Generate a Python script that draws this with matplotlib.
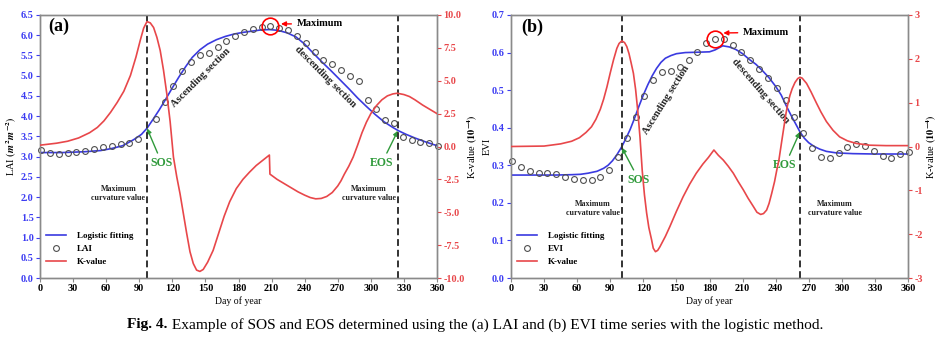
import matplotlib
matplotlib.use("Agg")
import matplotlib.pyplot as plt

plt.rcParams["font.family"] = ["Liberation Serif", "DejaVu Serif"]
plt.rcParams["font.weight"] = "bold"
plt.rcParams["mathtext.fontset"] = "stix"

# ---- (a) LAI ----
lai_days = [1, 9, 17, 25, 33, 41, 49, 57, 65, 73, 81, 89, 105, 113, 121, 129, 137, 145,
            153, 161, 169, 177, 185, 193, 201, 209, 217, 225, 233, 241, 249, 257, 265,
            273, 281, 289, 297, 305, 313, 321, 329, 337, 345, 353, 361]
lai_obs = [3.16, 3.08, 3.07, 3.08, 3.11, 3.14, 3.20, 3.24, 3.26, 3.30, 3.33, 3.44, 3.94,
           4.36, 4.75, 5.11, 5.33, 5.51, 5.57, 5.70, 5.85, 5.98, 6.07, 6.15, 6.20, 6.24,
           6.17, 6.13, 5.99, 5.80, 5.58, 5.39, 5.28, 5.14, 4.99, 4.88, 4.40, 4.17, 3.90,
           3.84, 3.48, 3.41, 3.35, 3.34, 3.27]
lai_fit_days = [0, 20, 40, 55, 65, 75, 85, 92, 97, 102, 108, 114, 120, 126, 132, 138, 145,
                152, 160, 168, 176, 184, 192, 200, 208, 216, 224, 232, 240, 248, 256, 264,
                272, 280, 288, 296, 304, 312, 320, 325, 332, 340, 350, 360]
lai_fit = [3.10, 3.10, 3.12, 3.15, 3.20, 3.27, 3.42, 3.55, 3.70, 3.90, 4.15, 4.42, 4.70,
           4.97, 5.22, 5.45, 5.64, 5.78, 5.89, 5.97, 6.03, 6.07, 6.10, 6.13, 6.14, 6.12,
           6.06, 5.96, 5.78, 5.55, 5.33, 5.12, 4.90, 4.68, 4.45, 4.24, 4.04, 3.86, 3.72,
           3.64, 3.55, 3.46, 3.36, 3.27]
lai_k_days = [0, 15, 25, 35, 45, 52, 58, 64, 70, 76, 82, 87, 91, 94, 97, 100, 103, 106, 109,
              112, 115, 118, 121, 124, 127, 130, 133, 136, 139, 142, 145, 148, 152, 157, 162,
              167, 172, 178, 184, 190, 196, 202, 208, 208.5, 215, 222, 228, 234, 240, 245,
              250, 255, 260, 265, 270, 273, 276, 280, 284, 288, 292, 296, 300, 305, 310,
              315, 320, 324, 330, 335, 340, 347, 354, 360]
lai_k = [0.10, 0.25, 0.40, 0.65, 1.05, 1.45, 1.95, 2.60, 3.35, 4.20, 5.40, 6.80, 8.10, 9.00,
         9.50, 9.40, 9.05, 8.30, 7.30, 5.80, 4.00, 1.90, -0.80, -2.30, -3.60, -5.10, -6.60,
         -8.00, -8.90, -9.40, -9.50, -9.35, -8.80, -7.90, -6.60, -5.30, -4.20, -3.20, -2.50,
         -1.95, -1.45, -1.05, -0.65, -2.10, -2.50, -2.85, -3.15, -3.45, -3.70, -3.88, -3.98,
         -3.95, -3.80, -3.50, -3.00, -2.60, -2.10, -1.50, -0.80, 0.10, 1.05, 1.85, 2.50, 3.10,
         3.55, 3.85, 4.00, 4.05, 3.95, 3.80, 3.55, 3.15, 2.80, 2.50]
lai_sos, lai_eos = 97, 324.5
lai_yticks = [0.0, 0.5, 1.0, 1.5, 2.0, 2.5, 3.0, 3.5, 4.0, 4.5, 5.0, 5.5, 6.0, 6.5]
lai_kticks = [-10.0, -7.5, -5.0, -2.5, 0.0, 2.5, 5.0, 7.5, 10.0]

# ---- (b) EVI ----
evi_days = [1, 9, 17, 25, 33, 41, 49, 57, 65, 73, 81, 89, 97, 105, 113, 121, 129, 137, 145,
            153, 161, 169, 177, 185, 193, 201, 209, 217, 225, 233, 241, 249, 257, 265, 273,
            281, 289, 297, 305, 313, 321, 329, 337, 345, 353, 361]
evi_obs = [0.312, 0.296, 0.285, 0.280, 0.279, 0.276, 0.270, 0.263, 0.260, 0.261, 0.270,
           0.287, 0.323, 0.372, 0.428, 0.485, 0.527, 0.547, 0.552, 0.562, 0.580, 0.602,
           0.625, 0.636, 0.635, 0.620, 0.601, 0.580, 0.556, 0.531, 0.505, 0.474, 0.429,
           0.385, 0.345, 0.323, 0.320, 0.332, 0.348, 0.356, 0.352, 0.339, 0.325, 0.320,
           0.329, 0.336]
evi_fit_days = [0, 20, 40, 55, 63, 70, 78, 84, 88, 92, 96, 100, 104, 108, 112, 116, 120, 124,
                128, 132, 136, 140, 145, 150, 158, 170, 180, 185, 192, 198, 204, 210, 216,
                222, 228, 234, 240, 245, 250, 255, 258, 262, 266, 270, 275, 280, 286, 295,
                310, 330, 360]
evi_fit = [0.274, 0.274, 0.274, 0.275, 0.276, 0.279, 0.284, 0.292, 0.300, 0.312, 0.328,
           0.347, 0.370, 0.395, 0.425, 0.457, 0.487, 0.514, 0.538, 0.558, 0.574, 0.585,
           0.592, 0.597, 0.600, 0.601, 0.602, 0.607, 0.618, 0.615, 0.608, 0.597, 0.582,
           0.569, 0.552, 0.533, 0.510, 0.487, 0.456, 0.427, 0.411, 0.389, 0.372, 0.360,
           0.350, 0.343, 0.337, 0.333, 0.331, 0.330, 0.330]
evi_k_days = [0, 30, 45, 55, 62, 68, 73, 77, 81, 84, 87, 90, 93, 96, 98, 100.5, 103, 105, 107,
              109, 111, 113, 115, 117, 119, 121, 123, 125, 127.5, 129, 131, 133, 135, 140, 144,
              150, 156, 162, 168, 174, 179, 184, 188, 192.5, 197, 201.6, 206, 210.7, 215,
              219.8, 223, 226.4, 229, 231.8, 234, 236.4, 239, 241, 243, 245.5, 247.5, 249.4,
              251, 253, 255, 257.5, 260, 262, 264, 268, 272, 277, 281, 286, 292, 298, 305,
              313, 325, 340, 360]
evi_k = [0.00, 0.01, 0.06, 0.12, 0.20, 0.32, 0.45, 0.62, 0.85, 1.08, 1.36, 1.68, 1.98, 2.24,
         2.35, 2.41, 2.37, 2.28, 2.12, 1.90, 1.67, 1.30, 0.80, 0.20, -0.55, -1.10, -1.52,
         -1.85, -2.13, -2.32, -2.40, -2.37, -2.29, -2.05, -1.83, -1.48, -1.15, -0.86, -0.61,
         -0.40, -0.25, -0.08, -0.20, -0.31, -0.45, -0.61, -0.80, -0.99, -1.18, -1.37, -1.50,
         -1.55, -1.53, -1.45, -1.30, -1.07, -0.80, -0.54, -0.30, 0.12, 0.45, 0.76, 0.97,
         1.17, 1.32, 1.46, 1.55, 1.58, 1.56, 1.44, 1.25, 0.99, 0.79, 0.57, 0.37, 0.22, 0.13,
         0.07, 0.03, 0.02, 0.02]
evi_sos, evi_eos = 100.5, 262
evi_yticks = [0.0, 0.1, 0.2, 0.3, 0.4, 0.5, 0.6, 0.7]
evi_kticks = [-3, -2, -1, 0, 1, 2, 3]

day_ticks = [0, 30, 60, 90, 120, 150, 180, 210, 240, 270, 300, 330, 360]

BLUE = "#3a3ae0"
BLUE_TXT = "#3c3cf2"
RED = "#e8474a"
GREEN = "#2f9a3a"
SPINE = "#8a8a8a"


def draw_panel(ax, days, obs, fdays, fit, kdays, kval, sos, eos, yticks, ylim, yfmt,
               kticks, klim, kfmt, ylabel, obs_name, ylabelpad):
    ax.plot(fdays, fit, color=BLUE, lw=1.2, label="Logistic fitting", zorder=3)
    ax.plot(days, obs, ls="none", marker="o", ms=4.2, mfc="none", mec="#505050", mew=0.8,
            label=obs_name, zorder=4, clip_on=False)
    ax.axvline(sos, color="#333333", ls=(0, (3.5, 2)), lw=1.4, zorder=5)
    ax.axvline(eos, color="#333333", ls=(0, (3.5, 2)), lw=1.4, zorder=5)
    ax.set_xlim(0, 360)
    ax.set_ylim(*ylim)
    ax.set_xticks(day_ticks)
    ax.set_yticks(yticks)
    ax.set_yticklabels([yfmt % v for v in yticks])
    ax.set_xlabel("Day of year", fontsize=7, labelpad=2)
    ax.set_ylabel(ylabel, fontsize=7.5, labelpad=ylabelpad)
    ax.tick_params(axis="x", direction="out", length=3, width=0.8, labelsize=7.3,
                   pad=1.5, color=SPINE)
    ax.tick_params(axis="y", direction="out", length=3, width=0.8, labelsize=7.3,
                   pad=1.5, colors=BLUE_TXT)

    kx = ax.twinx()
    kx.plot(kdays, kval, color=RED, lw=1.2, label="K-value", zorder=3)
    kx.set_ylim(*klim)
    kx.set_yticks(kticks)
    kx.set_yticklabels([kfmt % v for v in kticks])
    kx.set_ylabel("K-value $(10^{-4})$", fontsize=7.5, labelpad=1, weight="normal")
    kx.tick_params(axis="y", direction="out", length=3, width=0.8, labelsize=7.3,
                   pad=1.5, colors=RED)
    for a in (ax, kx):
        for s in a.spines.values():
            s.set_color(SPINE)
            s.set_linewidth(1.0)

    h1, l1 = ax.get_legend_handles_labels()
    h2, l2 = kx.get_legend_handles_labels()
    kx.legend(h1 + h2, l1 + l2, loc="upper left", bbox_to_anchor=(0.0, 0.2),
              frameon=False, fontsize=6.5, handlelength=2.2, handletextpad=1.2,
              labelspacing=0.5, borderaxespad=0.3)
    return kx


fig = plt.figure(figsize=(9.5, 3.41), dpi=100)
ax_a = fig.add_axes([40 / 950, 63 / 341, 397 / 950, 263 / 341])
ax_b = fig.add_axes([511 / 950, 63 / 341, 397 / 950, 263 / 341])

draw_panel(ax_a, lai_days, lai_obs, lai_fit_days, lai_fit, lai_k_days, lai_k, lai_sos,
           lai_eos, lai_yticks, (0, 6.5), "%.1f", lai_kticks, (-10, 10), "%.1f",
           "LAI $(m^2m^{-2})$", "LAI", 1)
draw_panel(ax_b, evi_days, evi_obs, evi_fit_days, evi_fit, evi_k_days, evi_k, evi_sos,
           evi_eos, evi_yticks, (0, 0.7), "%.1f", evi_kticks, (-3, 3), "%d",
           "EVI", "EVI", 0)

# annotations for (a)
ax_a.text(17, 6.23, "(a)", fontsize=13, ha="center", va="center")
imax = lai_obs.index(max(lai_obs))
ax_a.plot(lai_days[imax], lai_obs[imax], marker="o", ms=12, mfc="none", mec="red",
          mew=1.2, zorder=6)
ax_a.annotate("Maximum", xy=(216, 6.28), xytext=(233, 6.28), fontsize=7.5, va="center",
              arrowprops=dict(arrowstyle="-|>", color="red", lw=1.0, mutation_scale=7))
ax_a.text(146, 4.96, "Ascending section", fontsize=7.5, rotation=45, ha="center",
          va="center", color="#222222")
ax_a.text(259, 4.96, "descending section", fontsize=7.5, rotation=-45, ha="center",
          va="center", color="#222222")
ax_a.annotate("SOS", xy=(lai_sos, 3.7), xytext=(110.5, 2.84), fontsize=8.5, color=GREEN,
              ha="center", va="center",
              arrowprops=dict(arrowstyle="-|>", color=GREEN, lw=1.0, mutation_scale=7,
                              shrinkA=1, shrinkB=0))
ax_a.annotate("EOS", xy=(lai_eos, 3.64), xytext=(310, 2.84), fontsize=8.5, color=GREEN,
              ha="center", va="center",
              arrowprops=dict(arrowstyle="-|>", color=GREEN, lw=1.0, mutation_scale=7,
                              shrinkA=1, shrinkB=0))
ax_a.text(95.5, 2.08, "Maximum\ncurvature value", fontsize=5.8, ha="right", va="center",
          multialignment="center", color="#222222", linespacing=1.2)
ax_a.text(323, 2.08, "Maximum\ncurvature value", fontsize=5.8, ha="right", va="center",
          multialignment="center", color="#222222", linespacing=1.2)

# annotations for (b)
ax_b.text(19.5, 0.667, "(b)", fontsize=13, ha="center", va="center")
jmax = evi_obs.index(max(evi_obs))
ax_b.plot(evi_days[jmax], evi_obs[jmax], marker="o", ms=12, mfc="none", mec="red",
          mew=1.2, zorder=6)
ax_b.annotate("Maximum", xy=(190, 0.652), xytext=(210.6, 0.654), fontsize=7.5,
              va="center",
              arrowprops=dict(arrowstyle="-|>", color="red", lw=1.0, mutation_scale=7))
ax_b.text(141, 0.474, "Ascending section", fontsize=7.5, rotation=58, ha="center",
          va="center", color="#222222")
ax_b.text(226, 0.498, "descending section", fontsize=7.5, rotation=-49, ha="center",
          va="center", color="#222222")
ax_b.annotate("SOS", xy=(evi_sos, 0.347), xytext=(116, 0.261), fontsize=8.5, color=GREEN,
              ha="center", va="center",
              arrowprops=dict(arrowstyle="-|>", color=GREEN, lw=1.0, mutation_scale=7,
                              shrinkA=1, shrinkB=0))
ax_b.annotate("EOS", xy=(evi_eos, 0.389), xytext=(248.5, 0.30), fontsize=8.5, color=GREEN,
              ha="center", va="center",
              arrowprops=dict(arrowstyle="-|>", color=GREEN, lw=1.0, mutation_scale=7,
                              shrinkA=1, shrinkB=0))
ax_b.text(98.5, 0.186, "Maximum\ncurvature value", fontsize=5.8, ha="right", va="center",
          multialignment="center", color="#222222", linespacing=1.2)
ax_b.text(294, 0.184, "Maximum\ncurvature value", fontsize=5.8, ha="center", va="center",
          multialignment="center", color="#222222", linespacing=1.2)

# caption, bold label followed by normal text
fig.canvas.draw()
r = fig.canvas.get_renderer()
cap1 = fig.text(0, 0.047, "Fig. 4.", fontsize=11.1, weight="bold", va="center")
cap2 = fig.text(0, 0.047, " Example of SOS and EOS determined using the (a) LAI and (b) EVI "
                "time series with the logistic method.", fontsize=11.1, weight="normal",
                va="center")
w1 = cap1.get_window_extent(r).width
w2 = cap2.get_window_extent(r).width
x0 = 475 - (w1 + w2) / 2
cap1.set_x(x0 / 950)
cap2.set_x((x0 + w1) / 950)

fig.savefig("out.png", dpi=100)
